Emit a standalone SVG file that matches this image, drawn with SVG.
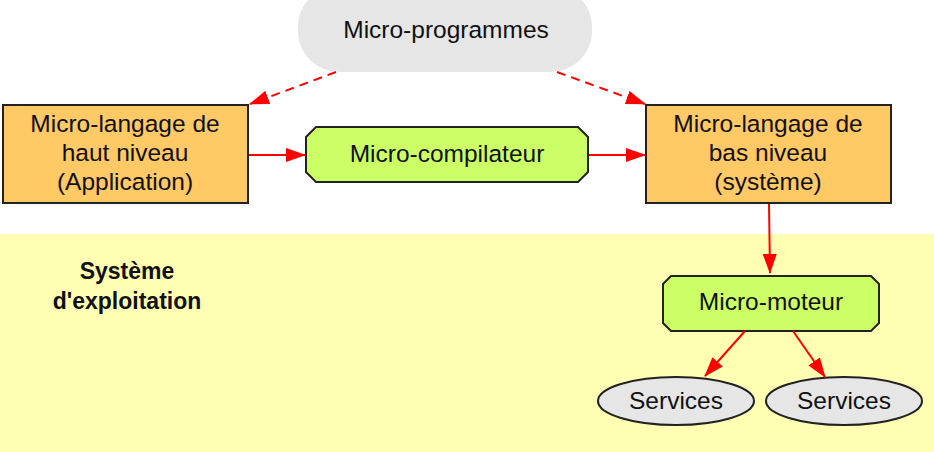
<svg xmlns="http://www.w3.org/2000/svg" width="934" height="452" viewBox="0 0 934 452">
<defs>
<marker id="ah" viewBox="0 0 20 14" refX="19" refY="7" markerWidth="20" markerHeight="14" markerUnits="userSpaceOnUse" orient="auto">
<path d="M0,0 L20,7 L0,14 Z" fill="#ff0000"/>
</marker>
<style>
text{font-family:"Liberation Sans",Arial,Helvetica,sans-serif;font-size:24.5px;fill:#111;text-anchor:middle}
.box{fill:#ffc966;stroke:#222;stroke-width:2}
.oct{fill:#ccff66;stroke:#222;stroke-width:2}
.ell{fill:#e6e6e6;stroke:#222;stroke-width:2}
.c{fill:none;stroke:#ff0000;stroke-width:2;marker-end:url(#ah)}
.d{stroke-dasharray:9,6}
.b{font-weight:bold;font-size:23px}
</style>
</defs>
<rect x="0" y="234" width="934" height="218" fill="#ffffb3"/>
<g id="systeme">
<text class="b" x="127" y="279">Système</text>
<text class="b" x="127" y="309">d'exploitation</text>
</g>
<g id="micro-programmes">
<rect x="298" y="-14" width="294" height="86" rx="42" ry="40" fill="#e6e6e6"/>
<text x="446" y="38">Micro-programmes</text>
</g>
<g id="haut-niveau">
<rect class="box" x="3" y="105" width="245" height="98"/>
<text x="125" y="132">Micro-langage de</text>
<text x="125" y="161">haut niveau</text>
<text x="125" y="190">(Application)</text>
</g>
<g id="bas-niveau">
<rect class="box" x="646" y="105" width="245" height="98"/>
<text x="768" y="132">Micro-langage de</text>
<text x="768" y="161">bas niveau</text>
<text x="768" y="190">(système)</text>
</g>
<g id="micro-compilateur">
<polygon class="oct" points="316,127 578,127 588,137 588,172 578,182 316,182 306,172 306,137"/>
<text x="447" y="162">Micro-compilateur</text>
</g>
<g id="micro-moteur">
<polygon class="oct" points="671,276 871,276 879,284 879,323 871,331 671,331 663,323 663,284"/>
<text x="771" y="310">Micro-moteur</text>
</g>
<g id="services1">
<ellipse class="ell" cx="676" cy="401" rx="78" ry="24"/>
<text x="676" y="409">Services</text>
</g>
<g id="services2">
<ellipse class="ell" cx="844" cy="401" rx="78" ry="24"/>
<text x="844" y="409">Services</text>
</g>
<g id="connectors">
<path class="c d" d="M336,72 L250,104"/>
<path class="c d" d="M557,72 L645,104"/>
<path class="c" d="M249,155 L305,155"/>
<path class="c" d="M589,155 L645,155"/>
<path class="c" d="M769,204 L770,273"/>
<path class="c" d="M745,331 L705,376"/>
<path class="c" d="M793,331 L825,377"/>
</g>
</svg>
